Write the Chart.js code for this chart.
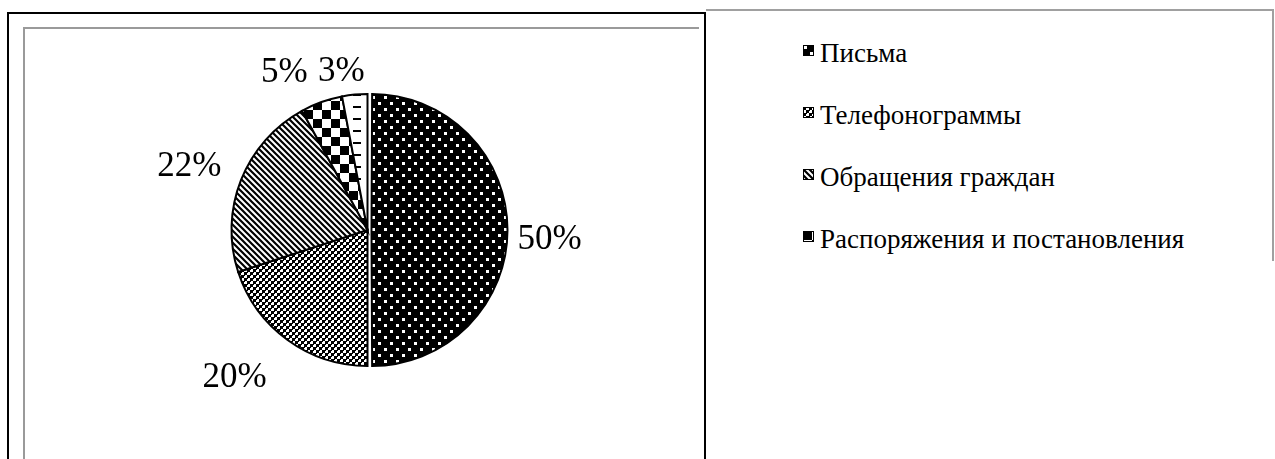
<!DOCTYPE html>
<html>
<head>
<meta charset="utf-8">
<script src="https://cdn.jsdelivr.net/npm/chart.js@4.4.1/dist/chart.umd.min.js"></script>
<style>
  html, body { margin: 0; padding: 0; background: #fff; overflow: hidden; }
  body { width: 1275px; height: 459px; position: relative; font-family: "Liberation Serif", "Times New Roman", serif; }
  .frame { position: absolute; box-sizing: border-box; }
  #outer { left: 7px; top: 12px; width: 699px; height: 470px; border: 2px solid #000; border-bottom: none; }
  #inner { left: 23px; top: 27px; width: 676px; height: 450px; border-left: 2px solid #9a9a9a; border-top: 2px solid #9a9a9a; }
  #side { left: 706px; top: 9px; width: 568px; height: 252px; border-top: 2px solid #a0a0a0; border-right: 2px solid #a0a0a0; }
  #pieWrap { position: absolute; left: 25px; top: 29px; }
  .item { position: absolute; left: 803px; white-space: nowrap; font-size: 27px; line-height: 1; color: #000; }
  .item canvas { position: absolute; left: 0; top: 5px; }
  .item span { position: absolute; left: 17px; top: 0; }
</style>
</head>
<body>
<div class="frame" id="outer"></div>
<div class="frame" id="inner"></div>
<div class="frame" id="side"></div>
<div id="pieWrap"><canvas id="pie" width="672" height="430"></canvas></div>
<div id="legend"></div>

<script>
// data
const categories = ["Письма", "Телефонограммы", "Обращения граждан", "Распоряжения и постановления", "Прочие"];
const shares = [50, 20, 22, 5, 3];
// the legend in the picture only shows the first four entries
const legendCount = 4;

// label placement tweaks (fraction of radius, angle nudge in degrees)
const labelDist = [1.34, 1.46, 1.39, 1.31, 1.18];
const labelNudge = [3, 6, -2, -8, -4];
// Chart.js moves an arc by offset/4
const sliceOffset = [16, 0, 0, 0, 0];

function makePattern(kind) {
  const c = document.createElement("canvas");
  let g;
  if (kind === "dots") {
    c.width = 12; c.height = 12;
    g = c.getContext("2d");
    g.fillStyle = "#000"; g.fillRect(0, 0, 12, 12);
    g.fillStyle = "#fff";
    g.fillRect(1, 1, 3, 3);
    g.fillRect(7, 7, 3, 3);
  } else if (kind === "smallcheck") {
    c.width = 6; c.height = 6;
    g = c.getContext("2d");
    g.fillStyle = "#fff"; g.fillRect(0, 0, 6, 6);
    g.fillStyle = "#000";
    g.fillRect(0, 0, 3, 3);
    g.fillRect(3, 3, 3, 3);
    g.fillRect(3, 0, 1, 1);
    g.fillRect(0, 3, 1, 1);
  } else if (kind === "diag") {
    c.width = 6; c.height = 6;
    g = c.getContext("2d");
    g.fillStyle = "#fff"; g.fillRect(0, 0, 6, 6);
    g.strokeStyle = "#000"; g.lineWidth = 2.2;
    g.beginPath();
    g.moveTo(-6, -6); g.lineTo(12, 12);
    g.moveTo(-6, 0); g.lineTo(6, 12);
    g.moveTo(0, -6); g.lineTo(12, 6);
    g.stroke();
  } else if (kind === "bigcheck") {
    c.width = 18; c.height = 18;
    g = c.getContext("2d");
    g.fillStyle = "#fff"; g.fillRect(0, 0, 18, 18);
    g.fillStyle = "#000";
    g.fillRect(0, 0, 9, 9);
    g.fillRect(9, 9, 9, 9);
  } else {
    c.width = 16; c.height = 12;
    g = c.getContext("2d");
    g.fillStyle = "#fff"; g.fillRect(0, 0, 16, 12);
    g.fillStyle = "#000";
    g.fillRect(8, 5, 8, 2);
  }
  return g.createPattern(c, "repeat");
}

const patternKinds = ["dots", "smallcheck", "diag", "bigcheck", "dashes"];
const fills = patternKinds.map(makePattern);

// keep the pulled-out slice the same size as the rest
// (Chart.js also grows a pulled-out half circle by offset/4)
const keepRadius = {
  id: "keepRadius",
  beforeDatasetsDraw(chart) {
    const meta = chart.getDatasetMeta(0);
    const r = meta.controller.outerRadius;
    meta.data.forEach((arc, i) => {
      arc.outerRadius = r - sliceOffset[i] / 4;
    });
  }
};

const pctLabels = {
  id: "pctLabels",
  afterDraw(chart) {
    const ctx = chart.ctx;
    const meta = chart.getDatasetMeta(0);
    const r0 = meta.controller.outerRadius;
    ctx.save();
    ctx.font = '35px "Liberation Serif"';
    ctx.fillStyle = "#000";
    ctx.textAlign = "center";
    ctx.textBaseline = "middle";
    meta.data.forEach((arc, i) => {
      const p = arc.getProps(["x", "y", "startAngle", "endAngle"], true);
      const mid = (p.startAngle + p.endAngle) / 2 + labelNudge[i] * Math.PI / 180;
      const r = r0 * labelDist[i];
      ctx.fillText(shares[i] + "%", p.x + Math.cos(mid) * r, p.y + Math.sin(mid) * r);
    });
    ctx.restore();
  }
};

new Chart(document.getElementById("pie"), {
  type: "pie",
  data: {
    labels: categories,
    datasets: [{
      data: shares,
      backgroundColor: fills,
      borderColor: "#000",
      borderWidth: 2,
      offset: sliceOffset,
      borderJoinStyle: "miter"
    }]
  },
  options: {
    responsive: false,
    animation: false,
    layout: { padding: { left: 13, right: 0, top: 56, bottom: 84 } },
    plugins: { legend: { display: false }, tooltip: { enabled: false } }
  },
  plugins: [keepRadius, pctLabels]
});

// legend, built from the same categories and fills
const legend = document.getElementById("legend");
for (let i = 0; i < legendCount; i++) {
  const item = document.createElement("div");
  item.className = "item";
  item.style.top = (40 + i * 62) + "px";
  const icon = document.createElement("canvas");
  icon.width = 11; icon.height = 11;
  const g = icon.getContext("2d");
  g.fillStyle = fills[i];
  g.fillRect(0, 0, 11, 11);
  g.strokeStyle = "#000"; g.lineWidth = 1;
  g.strokeRect(0.5, 0.5, 10, 10);
  const txt = document.createElement("span");
  txt.textContent = categories[i];
  item.appendChild(icon);
  item.appendChild(txt);
  legend.appendChild(item);
}
</script>
</body>
</html>
